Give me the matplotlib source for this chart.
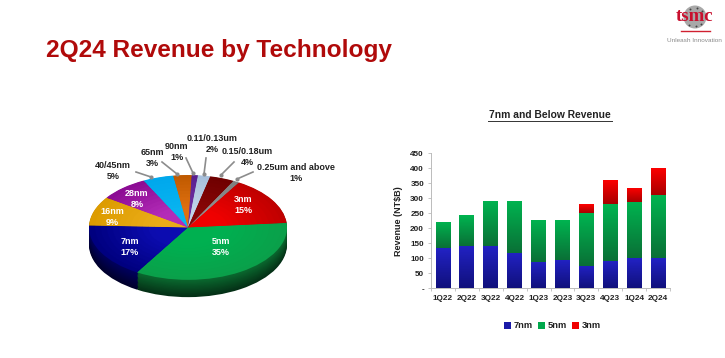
import numpy as np
import matplotlib
matplotlib.use("Agg")
import matplotlib.pyplot as plt
from matplotlib.colors import to_rgb, LinearSegmentedColormap

plt.rcParams['font.family'] = ['Liberation Sans', 'DejaVu Sans']
plt.rcParams['font.weight'] = 'bold'

W, H = 725, 358

# pie data, clockwise from the 3nm/5nm boundary
tech = ['5nm', '7nm', '16nm', '28nm', '40/45nm', '65nm', '90nm',
        '0.11/0.13um', '0.15/0.18um', '0.25um and above', '3nm']
share = [35, 17, 9, 8, 5, 3, 1, 2, 4, 1, 15]
outer_colors = ['#0aa04a', '#000080', '#dd9c00', '#8c0c94', '#00a8ec', '#c05a00',
                '#5a2090', '#a8c0dc', '#700000', '#808080', '#c00000']
inner_colors = ['#00b050', '#0c0cb0', '#eaac18', '#b42cb8', '#08b4f0', '#e07010',
                '#7030a0', '#c0d4e8', '#880606', '#909090', '#f00000']
wall_colors = ['#0a6a30', '#000060', '#8a6400', '#5a0860', '#0070a0', '#804000',
               '#401870', '#7088a0', '#400000', '#505050', '#0d5028']

# bar data
quarters = ['1Q22', '2Q22', '3Q22', '4Q22', '1Q23', '2Q23', '3Q23', '4Q23', '1Q24', '2Q24']
rev_7nm = [133, 141, 141, 117, 88, 95, 76, 91, 100, 100]
rev_5nm = [87, 102, 150, 174, 141, 132, 175, 189, 189, 210]
rev_3nm = [0, 0, 0, 0, 0, 0, 29, 82, 47, 91]
y_ticks = [0, 50, 100, 150, 200, 250, 300, 350, 400, 450]
y_labels = ['-', '50', '100', '150', '200', '250', '300', '350', '400', '450']

# label text placement in pixels of the picture
callouts = [('40/45nm\n5%', 113, 171, (136, 172), (151, 177)),
            ('65nm\n3%', 152, 158, (162, 162), (177, 174)),
            ('90nm\n1%', 177, 152, (186, 158), (193, 173)),
            ('0.11/0.13um\n2%', 212, 144, (206, 158), (204, 174)),
            ('0.15/0.18um\n4%', 247, 157, (234, 162), (221, 175)),
            ('0.25um and above\n1%', 296, 173, (253, 172), (237, 179))]
inside = [('3nm\n15%', 243, 205), ('5nm\n35%', 221, 247), ('7nm\n17%', 130, 247),
          ('16nm\n9%', 112, 217), ('28nm\n8%', 137, 199)]


def px_axes(left, top, right, bottom, **kw):
    return fig.add_axes([left / W, 1 - bottom / H, (right - left) / W, (bottom - top) / H], **kw)


def blend(c1, c2, t):
    a, b = np.array(to_rgb(c1)), np.array(to_rgb(c2))
    return tuple(a + (b - a) * t)


fig = plt.figure(figsize=(W / 100, H / 100), dpi=100, facecolor='white')

# ---- pie, squashed to an ellipse with a stack of darker copies as the wall
pie_ax = px_axes(89, 175, 287, 298)
pie_ax.axis('off')
depth = 0.33
start = 5
for d in np.linspace(depth, 0.01, 14):
    t = d / depth
    cols = [blend(c, '#000000', 0.55 * t) for c in wall_colors]
    pie_ax.pie(share, colors=cols, radius=1, center=(0, -d), startangle=start, counterclock=False)
for r in np.linspace(1, 0.1, 16):
    t = 1 - r
    cols = [blend(o, i, min(1, t * 1.6)) for o, i in zip(outer_colors, inner_colors)]
    pie_ax.pie(share, colors=cols, radius=r, startangle=start, counterclock=False)
pie_ax.set_aspect('auto')
pie_ax.set_xlim(-1, 1)
pie_ax.set_ylim(-1 - depth * 1.05, 1)

# ---- stacked bars
ax = px_axes(431, 153.3, 670, 288.3)
x = np.arange(len(quarters))
b7 = ax.bar(x, rev_7nm, width=0.62, color='#1a1aa8', label='7nm')
b5 = ax.bar(x, rev_5nm, width=0.62, bottom=rev_7nm, color='#00a84c', label='5nm')
b3 = ax.bar(x, rev_3nm, width=0.62, bottom=np.add(rev_7nm, rev_5nm), color='#f00000', label='3nm')

shades = [(b7, '#2222c4', '#10107c'), (b5, '#00b450', '#0a7036'), (b3, '#ff0000', '#a80000')]
for bars, top_col, bot_col in shades:
    cmap = LinearSegmentedColormap.from_list('g', [bot_col, top_col])
    for bar in bars:
        if bar.get_height() <= 0:
            continue
        x0, y0 = bar.get_x(), bar.get_y()
        im = ax.imshow(np.linspace(1, 0, 64).reshape(-1, 1), cmap=cmap, aspect='auto', zorder=2,
                       extent=(x0, x0 + bar.get_width(), y0, y0 + bar.get_height()))
        im.set_clip_path(bar)

ax.set_xlim(-0.5, len(quarters) - 0.5)
ax.set_ylim(0, 450)
ax.set_xticks(x)
ax.set_xticklabels(quarters, fontsize=5.9, color='#222222')
ax.tick_params(axis='x', length=0, pad=4.5)
ax.set_xticks(np.arange(-0.5, len(quarters)), minor=True)
ax.tick_params(axis='x', which='minor', length=2, width=0.6, color='#bbbbbb')
ax.set_yticks(y_ticks)
ax.set_yticklabels(y_labels, fontsize=5.9, color='#222222')
ax.tick_params(axis='y', length=2, width=0.6, color='#bbbbbb', pad=3)
ax.spines[['top', 'right']].set_visible(False)
ax.spines[['left', 'bottom']].set_color('#bbbbbb')
ax.spines[['left', 'bottom']].set_linewidth(0.7)
ax.set_ylabel('Revenue (NT$B)', fontsize=6.5, fontweight='bold', color='#222222', labelpad=5)
ax.legend(handles=[b7, b5, b3], ncol=3, frameon=False, fontsize=6.7, loc='center',
          bbox_to_anchor=(552.5 / W, 1 - 326 / H), bbox_transform=fig.transFigure,
          handlelength=0.7, handleheight=0.7, handletextpad=0.3, columnspacing=0.6,
          labelcolor='#222222')

# ---- page overlay in picture pixels: titles, callouts, logo
page = fig.add_axes([0, 0, 1, 1], zorder=5)
page.set_xlim(0, W)
page.set_ylim(H, 0)
page.axis('off')

page.text(46, 50, '2Q24 Revenue by Technology', fontsize=17.6, color='#b00a0a', va='center', ha='left')
page.text(550, 115.5, '7nm and Below Revenue', fontsize=7.4, color='#222222', ha='center', va='center')
page.plot([488, 612], [120.7, 120.7], color='#333333', lw=0.7)

for label, tx, ty, p0, p1 in callouts:
    page.text(tx, ty, label, fontsize=6.5, color='#222222', ha='center', va='center', linespacing=1.15)
    page.plot([p0[0], p1[0]], [p0[1], p1[1]], color='#8c8c8c', lw=1.2)
    page.plot(p1[0], p1[1], 'o', color='#8c8c8c', ms=3, mew=0)
for label, tx, ty in inside:
    page.text(tx, ty, label, fontsize=6.5, color='white', ha='center', va='center', linespacing=1.15)

# logo
page.add_patch(plt.Circle((695, 17), 11.5, color='#a8a8a8', lw=0))
for dx, dy in [(-5, -8), (2, -9), (7, -6), (-6, 8), (1, 9), (6, 7)]:
    page.plot(695 + dx, 17 + dy, 'o', color='#444444', ms=1.4, mew=0)
page.text(695, 16.5, 'tsmc', fontsize=13.5, color='#c8102e', family='Liberation Serif',
          ha='center', va='center')
page.plot([681, 710], [31, 31], color='#d02030', lw=1)
page.text(694, 41, 'Unleash Innovation', fontsize=4.6, color='#8a8a8a', weight='normal',
          ha='center', va='center')

fig.savefig('out.png', dpi=100)
